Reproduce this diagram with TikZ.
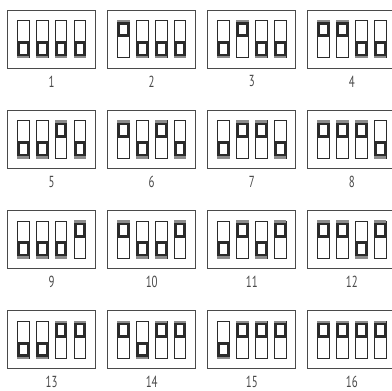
\documentclass[tikz,border=0pt]{standalone}
\usepackage{fontspec}
\usetikzlibrary{positioning}
\newfontfamily\tagfont[FakeStretch=0.68]{PT Sans}
\definecolor{ink}{HTML}{4A4A4A}
\definecolor{knobdark}{HTML}{2B2B2B}
\definecolor{knoblip}{HTML}{8C8C8C}
\begin{document}
\begin{tikzpicture}[x=1pt,y=-1pt,
    panelbox/.style={draw=ink,line width=0.9pt,minimum width=88pt,minimum height=58pt,inner sep=0pt},
    slotbox/.style={draw=knobdark,line width=0.8pt,fill=white,minimum width=11.6pt,minimum height=37.4pt,inner sep=0pt},
    knobbox/.style={fill=knobdark,minimum width=12.4pt,minimum height=17.5pt,inner sep=0pt},
    windowbox/.style={fill=white,minimum width=6.8pt,minimum height=9.7pt,inner sep=0pt},
    lipbox/.style={fill=knoblip,minimum width=12.4pt,minimum height=2.6pt,inner sep=0pt},
    tag/.style={font=\tagfont\fontsize{16}{16}\selectfont,text=ink,inner sep=0pt}]
    \useasboundingbox (0,0) rectangle (392,391);
    \foreach \n in {1,...,16}{
      \pgfmathtruncatemacro{\col}{mod(\n-1,4)}
      \pgfmathtruncatemacro{\row}{(\n-1)/4}
      \node[panelbox] (panel\n) at (51.6+100.1*\col,39+100.3*\row){};
      \node[tag,below=7pt of panel\n] (tag\n){\n};
      \foreach \s in {1,2,3,4}{
        \pgfmathtruncatemacro{\up}{mod((\n-1)/2^(\s-1),2)}
        \node[slotbox] (slot\n-\s) at ([xshift={(\s-2.5)*18.9pt}]panel\n.center){};
        \ifnum\up=1
          \node[knobbox,below=-0.4pt of slot\n-\s.north] (knob\n-\s){};
          \node[lipbox,below=-0.4pt of slot\n-\s.north] (lip\n-\s){};
          \node[windowbox,below=1.8pt of lip\n-\s] (window\n-\s){};
        \else
          \node[knobbox,above=-0.4pt of slot\n-\s.south] (knob\n-\s){};
          \node[lipbox,above=-0.4pt of slot\n-\s.south] (lip\n-\s){};
          \node[windowbox,above=1.8pt of lip\n-\s] (window\n-\s){};
        \fi
      }
    }
  \end{tikzpicture}
\end{document}
